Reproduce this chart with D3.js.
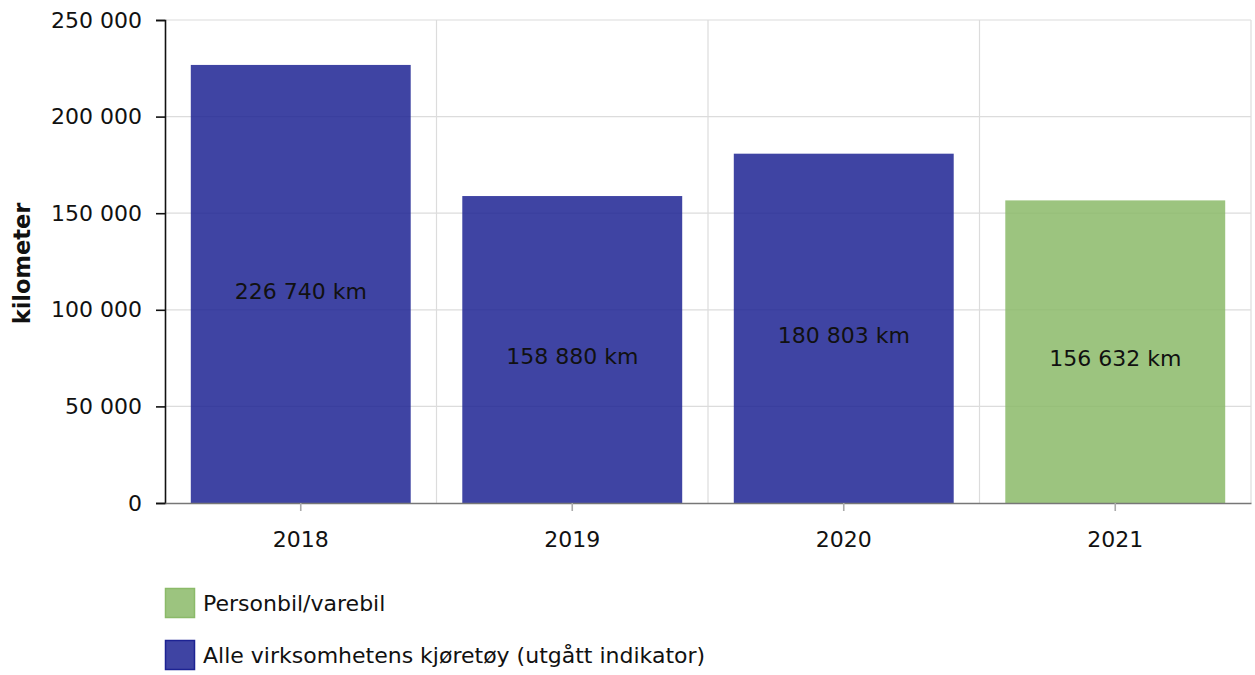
<!DOCTYPE html>
<html>
<head>
<meta charset="utf-8">
<script src="https://cdn.jsdelivr.net/npm/d3@7"></script>
<style>
  body { margin: 0; background: #fff; }
  svg text { font-family: "DejaVu Sans", Verdana, sans-serif; fill: #111; }
</style>
</head>
<body>
<svg id="chart"></svg>
<script>
// data
var years = ["2018", "2019", "2020", "2021"]
var values = [226740, 158880, 180803, 156632]
var series = ["alle", "alle", "alle", "person"]
var yTicks = [0, 50000, 100000, 150000, 200000, 250000]
var legendLabels = ["Personbil/varebil", "Alle virksomhetens kjøretøy (utgått indikator)"]
var legendKeys = ["person", "alle"]

var colors = {person: "#8bba69", alle: "#1d2393"}

var W = 1255, H = 675
var margin = {top: 20, right: 4, bottom: 172, left: 165}
var width = W - margin.left - margin.right,
    height = H - margin.top - margin.bottom
var fs = "22px"

var fmt = function(v) { return d3.format(",")(v).replace(/,/g, " ") }

var svg = d3.select("#chart").attr("width", W).attr("height", H)
var g = svg.append("g").attr("transform", "translate(" + margin.left + "," + margin.top + ")")

var x = d3.scaleBand().domain(years).range([0, width]).paddingInner(0.19).paddingOuter(0.095)
var y = d3.scaleLinear().domain([0, 250000]).range([height, 0])

// horizontal grid
g.selectAll(".hgrid").data(yTicks.slice(1)).enter().append("line")
  .attr("x1", 0).attr("x2", width)
  .attr("y1", function(d) { return y(d) }).attr("y2", function(d) { return y(d) })
  .attr("stroke", "#dcdcdc").attr("stroke-width", 1.2)

// vertical grid at band boundaries
g.selectAll(".vgrid").data(years).enter().append("line")
  .attr("x1", function(d, i) { return (i + 1) * width / years.length })
  .attr("x2", function(d, i) { return (i + 1) * width / years.length })
  .attr("y1", 0).attr("y2", height)
  .attr("stroke", "#dcdcdc").attr("stroke-width", 1.2)

// bars
g.selectAll(".bar").data(years).enter().append("rect")
  .attr("x", function(d) { return x(d) })
  .attr("width", x.bandwidth())
  .attr("y", function(d, i) { return y(values[i]) })
  .attr("height", function(d, i) { return y(0) - y(values[i]) })
  .attr("fill", function(d, i) { return colors[series[i]] })
  .attr("fill-opacity", 0.85)

// value labels
g.selectAll(".lbl").data(years).enter().append("text")
  .attr("x", function(d) { return x(d) + x.bandwidth() / 2 })
  .attr("y", function(d, i) { return (y(values[i]) + y(0)) / 2 + 7 })
  .attr("dy", "0.35em")
  .attr("text-anchor", "middle")
  .style("font-size", fs)
  .text(function(d, i) { return fmt(values[i]) + " km" })

// y axis
var yAxis = g.append("g")
  .call(d3.axisLeft(y).tickValues(yTicks).tickFormat(fmt).tickSize(9).tickPadding(14))
yAxis.selectAll("text").style("font-size", fs)
yAxis.select(".domain").attr("stroke", "#111").attr("stroke-width", 1.6)
yAxis.selectAll(".tick line").attr("stroke", "#111").attr("stroke-width", 1.6)

// x axis
var xAxis = g.append("g").attr("transform", "translate(0," + height + ")")
  .call(d3.axisBottom(x).tickSize(8).tickPadding(20).tickSizeOuter(0))
xAxis.select(".domain").attr("stroke", "#777").attr("stroke-width", 1.6)
xAxis.selectAll(".tick line").attr("stroke", "#aaa").attr("stroke-width", 1.6)
xAxis.selectAll("text").style("font-size", fs)

// y axis title
svg.append("text")
  .attr("transform", "translate(30," + (margin.top + height / 2 + 2) + ") rotate(-90)")
  .attr("text-anchor", "middle")
  .style("font-size", "22.5px").style("font-weight", "bold")
  .text("kilometer")

// legend
var leg = svg.append("g").attr("transform", "translate(165,588)")
legendKeys.forEach(function(k, i) {
  var row = leg.append("g").attr("transform", "translate(0," + i * 52 + ")")
  row.append("rect").attr("x", 0.5).attr("y", 0.5).attr("width", 29).attr("height", 29)
    .attr("fill", colors[k]).attr("fill-opacity", 0.85)
    .attr("stroke", colors[k]).attr("stroke-width", 1.5)
  row.append("text").attr("x", 38).attr("y", 15).attr("dy", "0.35em")
    .style("font-size", fs).text(legendLabels[i])
})
</script>
</body>
</html>
